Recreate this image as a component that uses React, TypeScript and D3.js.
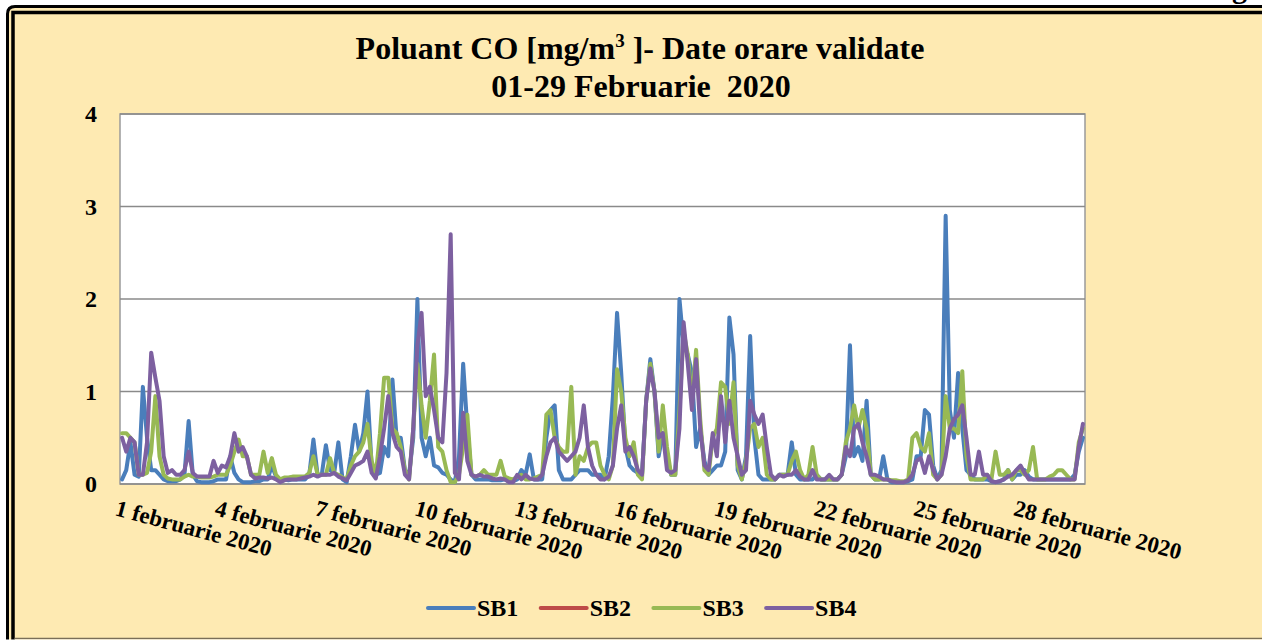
import React from 'react';
import * as d3 from 'd3';

// ---- Data (3-hour samples, 8 per day, 1-29 February 2020) ----
const sb1: number[][] = [
  [0.05, 0.15, 0.45, 0.1, 0.08, 1.05, 0.5, 0.15],
  [0.15, 0.1, 0.05, 0.03, 0.03, 0.03, 0.05, 0.1],
  [0.68, 0.1, 0.03, 0.02, 0.02, 0.02, 0.03, 0.05],
  [0.05, 0.05, 0.3, 0.12, 0.05, 0.02, 0.02, 0.02],
  [0.03, 0.03, 0.05, 0.05, 0.2, 0.08, 0.05, 0.05],
  [0.04, 0.05, 0.05, 0.05, 0.05, 0.1, 0.48, 0.1],
  [0.1, 0.42, 0.15, 0.12, 0.45, 0.05, 0.02, 0.3],
  [0.64, 0.35, 0.55, 1.0, 0.2, 0.1, 0.12, 0.4],
  [0.3, 1.13, 0.5, 0.5, 0.15, 0.1, 0.5, 2.0],
  [0.5, 0.3, 0.5, 0.2, 0.18, 0.12, 0.1, 0.05],
  [0.02, 0.3, 1.3, 0.6, 0.1, 0.05, 0.05, 0.05],
  [0.05, 0.04, 0.04, 0.04, 0.05, 0.03, 0.03, 0.05],
  [0.15, 0.1, 0.32, 0.05, 0.05, 0.05, 0.5, 0.8],
  [0.85, 0.15, 0.05, 0.05, 0.05, 0.1, 0.15, 0.15],
  [0.15, 0.1, 0.1, 0.1, 0.05, 0.3, 0.95, 1.85],
  [1.2, 0.4, 0.2, 0.15, 0.12, 0.1, 0.9, 1.35],
  [1.0, 0.3, 0.55, 0.3, 0.1, 0.1, 2.0, 1.5],
  [1.4, 1.2, 0.4, 0.6, 0.25, 0.1, 0.15, 0.2],
  [0.2, 0.35, 1.8, 1.4, 0.15, 0.05, 0.3, 1.6],
  [0.5, 0.1, 0.05, 0.05, 0.05, 0.05, 0.1, 0.1],
  [0.1, 0.45, 0.1, 0.05, 0.05, 0.05, 0.05, 0.1],
  [0.05, 0.05, 0.05, 0.05, 0.05, 0.1, 0.3, 1.5],
  [0.3, 0.4, 0.25, 0.9, 0.1, 0.05, 0.05, 0.3],
  [0.05, 0.02, 0.02, 0.02, 0.02, 0.03, 0.05, 0.3],
  [0.3, 0.8, 0.75, 0.2, 0.05, 0.15, 2.9, 0.8],
  [0.5, 1.2, 0.6, 0.15, 0.1, 0.05, 0.05, 0.05],
  [0.05, 0.03, 0.02, 0.03, 0.05, 0.15, 0.05, 0.1],
  [0.1, 0.15, 0.08, 0.05, 0.05, 0.05, 0.05, 0.05],
  [0.05, 0.05, 0.05, 0.05, 0.05, 0.1, 0.35, 0.5],
];

const sb2: number[][] = []; // no validated data

const sb3: number[][] = [
  [0.55, 0.55, 0.5, 0.45, 0.1, 0.1, 0.12, 0.35],
  [0.95, 0.3, 0.1, 0.06, 0.05, 0.05, 0.05, 0.08],
  [0.1, 0.08, 0.08, 0.07, 0.07, 0.07, 0.08, 0.1],
  [0.1, 0.1, 0.2, 0.35, 0.48, 0.3, 0.3, 0.1],
  [0.1, 0.1, 0.35, 0.12, 0.28, 0.1, 0.05, 0.07],
  [0.07, 0.08, 0.08, 0.08, 0.08, 0.12, 0.3, 0.1],
  [0.1, 0.1, 0.28, 0.12, 0.1, 0.07, 0.05, 0.2],
  [0.3, 0.35, 0.45, 0.65, 0.25, 0.1, 0.55, 1.15],
  [1.15, 0.6, 0.55, 0.4, 0.15, 0.05, 0.6, 1.3],
  [0.85, 0.5, 0.9, 1.4, 0.4, 0.35, 0.15, 0.02],
  [0.02, 0.1, 0.4, 0.75, 0.1, 0.08, 0.1, 0.15],
  [0.1, 0.1, 0.1, 0.25, 0.08, 0.06, 0.05, 0.08],
  [0.1, 0.05, 0.05, 0.06, 0.08, 0.1, 0.75, 0.8],
  [0.5, 0.4, 0.35, 0.35, 1.05, 0.1, 0.3, 0.25],
  [0.4, 0.45, 0.45, 0.2, 0.1, 0.05, 0.2, 1.24],
  [1.0, 0.5, 0.3, 0.45, 0.1, 0.05, 0.9, 1.3],
  [1.0, 0.35, 0.85, 0.4, 0.1, 0.1, 0.8, 1.65],
  [1.4, 0.9, 1.45, 0.7, 0.15, 0.1, 0.5, 0.6],
  [1.1, 1.05, 0.65, 1.1, 0.2, 0.05, 0.25, 0.6],
  [0.65, 0.4, 0.5, 0.1, 0.05, 0.05, 0.1, 0.1],
  [0.1, 0.25, 0.35, 0.15, 0.05, 0.1, 0.4, 0.1],
  [0.05, 0.05, 0.05, 0.05, 0.05, 0.1, 0.45, 0.6],
  [0.85, 0.6, 0.8, 0.6, 0.1, 0.05, 0.05, 0.05],
  [0.05, 0.04, 0.04, 0.03, 0.03, 0.05, 0.5, 0.55],
  [0.4, 0.35, 0.55, 0.1, 0.05, 0.1, 0.95, 0.6],
  [0.6, 0.55, 1.22, 0.3, 0.05, 0.05, 0.05, 0.05],
  [0.1, 0.05, 0.35, 0.1, 0.1, 0.15, 0.05, 0.15],
  [0.15, 0.1, 0.15, 0.4, 0.05, 0.05, 0.05, 0.08],
  [0.1, 0.15, 0.15, 0.1, 0.05, 0.05, 0.45, 0.6],
];

const sb4: number[][] = [
  [0.5, 0.35, 0.5, 0.45, 0.1, 0.1, 0.45, 1.42],
  [1.15, 0.9, 0.3, 0.12, 0.15, 0.1, 0.1, 0.15],
  [0.35, 0.12, 0.08, 0.08, 0.08, 0.08, 0.25, 0.12],
  [0.2, 0.18, 0.3, 0.55, 0.35, 0.4, 0.3, 0.1],
  [0.06, 0.07, 0.07, 0.06, 0.07, 0.05, 0.02, 0.04],
  [0.05, 0.05, 0.05, 0.06, 0.07, 0.08, 0.1, 0.08],
  [0.1, 0.1, 0.1, 0.12, 0.08, 0.06, 0.04, 0.12],
  [0.2, 0.22, 0.25, 0.35, 0.12, 0.06, 0.3, 0.6],
  [0.95, 0.55, 0.4, 0.35, 0.1, 0.05, 0.6, 1.5],
  [1.85, 0.95, 1.05, 0.8, 0.5, 0.45, 1.2, 2.7],
  [0.12, 0.05, 0.77, 0.25, 0.1, 0.08, 0.1, 0.08],
  [0.08, 0.06, 0.05, 0.06, 0.05, 0.02, 0.02, 0.1],
  [0.05, 0.1, 0.06, 0.05, 0.05, 0.1, 0.3, 0.45],
  [0.5, 0.35, 0.3, 0.25, 0.3, 0.35, 0.5, 0.85],
  [0.4, 0.2, 0.1, 0.05, 0.05, 0.08, 0.2, 0.6],
  [0.85, 0.35, 0.4, 0.3, 0.15, 0.1, 0.9, 1.25],
  [1.0, 0.5, 0.55, 0.15, 0.12, 0.15, 0.6, 1.75],
  [1.3, 0.8, 1.35, 0.6, 0.2, 0.15, 0.55, 0.3],
  [0.95, 0.45, 0.9, 0.5, 0.3, 0.1, 0.15, 0.9],
  [0.75, 0.65, 0.75, 0.4, 0.1, 0.05, 0.1, 0.08],
  [0.1, 0.1, 0.15, 0.08, 0.05, 0.05, 0.15, 0.05],
  [0.05, 0.05, 0.1, 0.05, 0.05, 0.1, 0.4, 0.3],
  [0.6, 0.65, 0.45, 0.3, 0.1, 0.1, 0.08, 0.05],
  [0.05, 0.03, 0.02, 0.02, 0.02, 0.04, 0.1, 0.25],
  [0.28, 0.12, 0.3, 0.15, 0.05, 0.1, 0.3, 0.6],
  [0.7, 0.75, 0.85, 0.5, 0.1, 0.1, 0.35, 0.1],
  [0.1, 0.03, 0.02, 0.03, 0.05, 0.08, 0.1, 0.15],
  [0.2, 0.12, 0.05, 0.05, 0.05, 0.05, 0.05, 0.05],
  [0.05, 0.05, 0.05, 0.05, 0.05, 0.05, 0.4, 0.65],
];

const seriesNames = ['SB1', 'SB2', 'SB3', 'SB4'];
const seriesData = [sb1, sb2, sb3, sb4];
const seriesColors = ['#4A7EBB', '#BE4B48', '#98B954', '#7D60A0'];
const tickDays = [1, 4, 7, 10, 13, 16, 19, 22, 25, 28];
const tickLabels = tickDays.map((d) => `${d} februarie 2020`);
const yTicks = [0, 1, 2, 3, 4];
const titleLine1a = 'Poluant CO [mg/m';
const titleSup = '3';
const titleLine1b = ' ]- Date orare validate';
const titleLine2 = '01-29 Februarie  2020';

const W = 1262;
const H = 641;
const HOURS = 29 * 24;
const STEP = 3;
const FONT = '"Liberation Serif", "Times New Roman", serif';
const YELLOW = '#FEEAB2';

export default function App() {
  const x = d3.scaleLinear().domain([0, HOURS]).range([120, 1085]);
  const y = d3.scaleLinear().domain([0, 4]).range([484, 114]);
  const line = d3
    .line<number>()
    .x((_, i) => x(i * STEP + STEP / 2))
    .y((v) => y(v));

  return (
    <svg
      width={W}
      height={H}
      style={{ position: 'absolute', left: 0, top: 0, background: '#fff' }}
    >
      {/* frame */}
      <path
        d={`M7.5,${H + 5} L7.5,14 Q7.5,6.5 15,6.5 L${W + 5},6.5 L${W + 5},${H + 5} Z`}
        fill={YELLOW}
        stroke="#000"
        strokeWidth={3}
      />
      <path
        d={`M13,${H + 5} L13,12.5 L${W + 5},12.5`}
        fill="none"
        stroke="#000"
        strokeWidth={3.5}
      />
      <line x1={14.5} x2={W} y1={638.5} y2={638.5} stroke="#7a6f58" strokeWidth={1.5} />
      <rect x={0} y={639.5} width={W} height={2} fill="#fff" />
      <text x={1232} y={-2.5} fontFamily={FONT} fontWeight="bold" fontSize={30} fill="#000">
        g
      </text>

      {/* title */}
      <text x={640} y={59} textAnchor="middle" fontFamily={FONT} fontWeight="bold" fontSize={32} fill="#000">
        {titleLine1a}
        <tspan fontSize={19} dy={-12}>{titleSup}</tspan>
        <tspan dy={12}>{titleLine1b}</tspan>
      </text>
      <text x={641} y={97} textAnchor="middle" fontFamily={FONT} fontWeight="bold" fontSize={32} fill="#000" style={{ whiteSpace: 'pre' }}>
        {titleLine2}
      </text>

      {/* plot area */}
      <rect x={120} y={114} width={965} height={370} fill="#fff" stroke="#9a9a9a" strokeWidth={1.5} />
      {yTicks.map((t) => (
        <line key={'g' + t} x1={120} x2={1085} y1={y(t)} y2={y(t)} stroke="#8a8a8a" strokeWidth={1.5} />
      ))}
      {yTicks.map((t) => (
        <text
          key={'yt' + t}
          x={97}
          y={y(t) + 8}
          textAnchor="end"
          fontFamily={FONT}
          fontWeight="bold"
          fontSize={24}
          fill="#000"
        >
          {t}
        </text>
      ))}

      {/* series */}
      {seriesData.map((s, k) => {
        const vals = s.flat();
        if (!vals.length) return null;
        return (
          <path
            key={seriesNames[k]}
            d={line(vals) || ''}
            fill="none"
            stroke={seriesColors[k]}
            strokeWidth={4}
            strokeLinejoin="round"
            strokeLinecap="round"
          />
        );
      })}

      {/* x labels */}
      {tickDays.map((d, i) => {
        const tx = x((d - 1) * 24) - 6;
        const ty = 515;
        return (
          <text
            key={'xl' + d}
            transform={`translate(${tx},${ty}) rotate(15)`}
            fontFamily={FONT}
            fontWeight="bold"
            fontSize={23}
            fill="#000"
          >
            {tickLabels[i]}
          </text>
        );
      })}

      {/* legend */}
      {seriesNames.map((n, i) => {
        const lx = 428 + i * 112.7;
        return (
          <g key={'lg' + n}>
            <line x1={lx} x2={lx + 46} y1={608} y2={608} stroke={seriesColors[i]} strokeWidth={4} strokeLinecap="round" />
            <text x={lx + 49} y={616} fontFamily={FONT} fontWeight="bold" fontSize={24} fill="#000">
              {n}
            </text>
          </g>
        );
      })}
    </svg>
  );
}
